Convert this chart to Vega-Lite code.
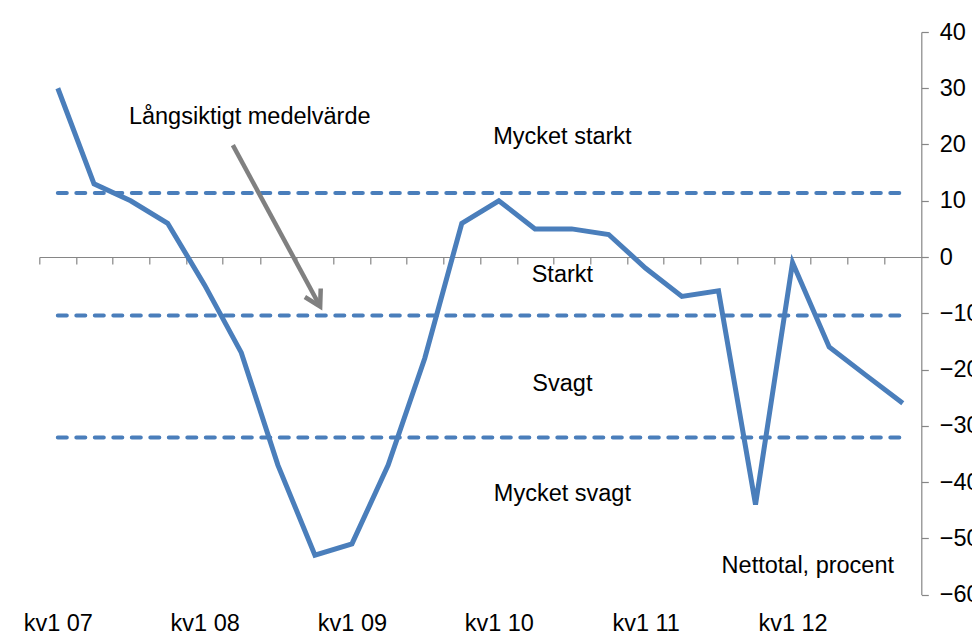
{
  "$schema": "https://vega.github.io/schema/vega-lite/v6.json",
  "width": 882,
  "height": 562.5,
  "autosize": {"type": "none"},
  "padding": {"left": 39.3, "top": 32, "right": 50.7, "bottom": 40.5},
  "background": "white",
  "config": {"view": {"stroke": null}, "font": "Liberation Sans"},
  "datasets": {
    "series": [
      {"quarter": "2007-01-01", "value": 30},
      {"quarter": "2007-04-01", "value": 13},
      {"quarter": "2007-07-01", "value": 10},
      {"quarter": "2007-10-01", "value": 6},
      {"quarter": "2008-01-01", "value": -5},
      {"quarter": "2008-04-01", "value": -17},
      {"quarter": "2008-07-01", "value": -37},
      {"quarter": "2008-10-01", "value": -53},
      {"quarter": "2009-01-01", "value": -51},
      {"quarter": "2009-04-01", "value": -37},
      {"quarter": "2009-07-01", "value": -18},
      {"quarter": "2009-10-01", "value": 6},
      {"quarter": "2010-01-01", "value": 10},
      {"quarter": "2010-04-01", "value": 5},
      {"quarter": "2010-07-01", "value": 5},
      {"quarter": "2010-10-01", "value": 4},
      {"quarter": "2011-01-01", "value": -2},
      {"quarter": "2011-04-01", "value": -7},
      {"quarter": "2011-07-01", "value": -6},
      {"quarter": "2011-10-01", "value": -44},
      {"quarter": "2012-01-01", "value": -1},
      {"quarter": "2012-04-01", "value": -16},
      {"quarter": "2012-07-01", "value": -21},
      {"quarter": "2012-10-01", "value": -26}
    ],
    "levels": [
      {"from": "2007-01-01", "to": "2012-10-01", "level": 11.4},
      {"from": "2007-01-01", "to": "2012-10-01", "level": -10.4},
      {"from": "2007-01-01", "to": "2012-10-01", "level": -32.1}
    ],
    "notes": [
      {"date": "2008-04-22", "value": 24.9, "label": "Långsiktigt medelvärde"},
      {"date": "2010-06-08", "value": 21.3, "label": "Mycket starkt"},
      {"date": "2010-06-08", "value": -3.2, "label": "Starkt"},
      {"date": "2010-06-08", "value": -22.6, "label": "Svagt"},
      {"date": "2010-06-08", "value": -42.1, "label": "Mycket svagt"},
      {"date": "2012-02-08", "value": -54.9, "label": "Nettotal, procent"}
    ],
    "arrow": [
      {"start": "2008-03-11", "startValue": 19.9, "end": "2008-10-14", "endValue": -8.8}
    ]
  },
  "resolve": {"axis": {"x": "independent", "y": "independent"}},
  "layer": [
    {
      "data": {"name": "levels"},
      "mark": {"type": "rule", "color": "#4a7ebb", "strokeWidth": 4, "strokeDash": [9, 9.5], "strokeCap": "round"},
      "encoding": {
        "x": {
          "field": "from", "type": "temporal",
          "scale": {"type": "utc", "domain": [{"year": 2006, "month": 11, "date": 16, "utc": true}, {"year": 2012, "month": 11, "date": 16, "utc": true}]},
          "axis": {
            "orient": "bottom", "offset": -337.5, "title": null, "labels": false, "grid": false,
            "domain": true, "domainColor": "#868686", "domainWidth": 1.2,
            "ticks": true, "tickSize": 7, "tickColor": "#868686", "tickWidth": 1.2,
            "values": [
              {"year": 2006, "month": 11, "date": 16, "utc": true},
              {"year": 2007, "month": 2, "date": 15, "utc": true},
              {"year": 2007, "month": 5, "date": 17, "utc": true},
              {"year": 2007, "month": 8, "date": 16, "utc": true},
              {"year": 2007, "month": 11, "date": 16, "utc": true},
              {"year": 2008, "month": 2, "date": 15, "utc": true},
              {"year": 2008, "month": 5, "date": 17, "utc": true},
              {"year": 2008, "month": 8, "date": 16, "utc": true},
              {"year": 2008, "month": 11, "date": 16, "utc": true},
              {"year": 2009, "month": 2, "date": 15, "utc": true},
              {"year": 2009, "month": 5, "date": 17, "utc": true},
              {"year": 2009, "month": 8, "date": 16, "utc": true},
              {"year": 2009, "month": 11, "date": 16, "utc": true},
              {"year": 2010, "month": 2, "date": 15, "utc": true},
              {"year": 2010, "month": 5, "date": 17, "utc": true},
              {"year": 2010, "month": 8, "date": 16, "utc": true},
              {"year": 2010, "month": 11, "date": 16, "utc": true},
              {"year": 2011, "month": 2, "date": 15, "utc": true},
              {"year": 2011, "month": 5, "date": 17, "utc": true},
              {"year": 2011, "month": 8, "date": 16, "utc": true},
              {"year": 2011, "month": 11, "date": 16, "utc": true},
              {"year": 2012, "month": 2, "date": 15, "utc": true},
              {"year": 2012, "month": 5, "date": 17, "utc": true},
              {"year": 2012, "month": 8, "date": 16, "utc": true}
            ]
          }
        },
        "x2": {"field": "to"},
        "y": {"field": "level", "type": "quantitative", "scale": {"domain": [-60, 40], "nice": false, "zero": false}, "axis": null}
      }
    },
    {
      "data": {"name": "series"},
      "mark": {"type": "line", "color": "#4a7ebb", "strokeWidth": 5, "strokeJoin": "miter", "strokeCap": "butt"},
      "encoding": {
        "x": {
          "field": "quarter", "type": "temporal",
          "axis": {
            "orient": "bottom", "title": null, "grid": false, "domain": false, "ticks": false, "tickSize": 0,
            "labelExpr": "'kv' + utcquarter(datum.value) + ' ' + utcFormat(datum.value, '%y')",
            "labelFont": "Liberation Sans", "labelFontSize": 23.5, "labelColor": "#000000",
            "labelPadding": 17, "labelFlush": false, "labelOverlap": false,
            "values": [
              {"year": 2007, "month": 1, "date": 1, "utc": true},
              {"year": 2008, "month": 1, "date": 1, "utc": true},
              {"year": 2009, "month": 1, "date": 1, "utc": true},
              {"year": 2010, "month": 1, "date": 1, "utc": true},
              {"year": 2011, "month": 1, "date": 1, "utc": true},
              {"year": 2012, "month": 1, "date": 1, "utc": true}
            ]
          }
        },
        "y": {
          "field": "value", "type": "quantitative",
          "axis": {
            "orient": "right", "title": null, "grid": false,
            "values": [-60, -50, -40, -30, -20, -10, 0, 10, 20, 30, 40],
            "domain": true, "domainColor": "#868686", "domainWidth": 1.2,
            "ticks": true, "tickSize": 7, "tickColor": "#868686", "tickWidth": 1.2,
            "labelFont": "Liberation Sans", "labelFontSize": 23.5, "labelColor": "#000000",
            "labelPadding": 11, "labelFlush": false, "labelOverlap": false, "labelBaseline": "middle"
          }
        }
      }
    },
    {
      "data": {"name": "notes"},
      "mark": {"type": "text", "font": "Liberation Sans", "fontSize": 23.5, "color": "#000000", "align": "center", "baseline": "middle"},
      "encoding": {
        "x": {"field": "date", "type": "temporal", "axis": null},
        "y": {"field": "value", "type": "quantitative", "axis": null},
        "text": {"field": "label"}
      }
    },
    {
      "data": {"name": "arrow"},
      "mark": {"type": "rule", "color": "#808080", "strokeWidth": 4.5},
      "encoding": {
        "x": {"field": "start", "type": "temporal", "axis": null},
        "x2": {"field": "end"},
        "y": {"field": "startValue", "type": "quantitative", "axis": null},
        "y2": {"field": "endValue"}
      }
    },
    {
      "data": {"name": "arrow"},
      "mark": {"type": "point", "shape": "M-0.5,-0.866L0,0L0.5,-0.866", "filled": false, "stroke": "#808080", "strokeWidth": 4.5, "strokeJoin": "miter", "size": 1296, "angle": 331.8, "opacity": 1},
      "encoding": {
        "x": {"field": "end", "type": "temporal", "axis": null},
        "y": {"field": "endValue", "type": "quantitative", "axis": null}
      }
    }
  ]
}
